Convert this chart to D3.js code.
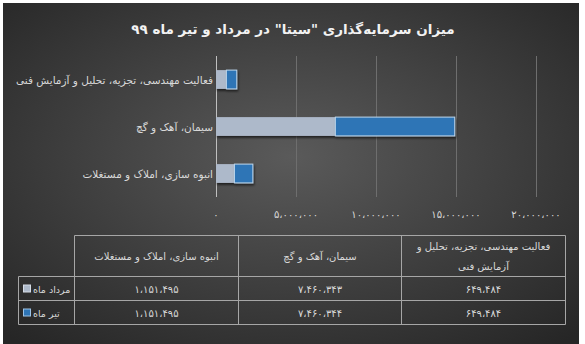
<!DOCTYPE html>
<html>
<head>
<meta charset="utf-8">
<script src="https://cdn.jsdelivr.net/npm/d3@7"></script>
<style>
  html, body { margin: 0; padding: 0; background: #fff; }
  svg { display: block; font-family: 'DejaVu Sans', sans-serif; }
</style>
</head>
<body>
<svg id="chart" width="585" height="344"></svg>
<script>
// chart data
const title = 'میزان سرمایه‌گذاری "سیتا" در مرداد و تیر ماه ۹۹';
const categories = [
  'انبوه سازی، املاک و مستغلات',
  'سیمان، آهک و گچ',
  'فعالیت مهندسی، تجزیه، تحلیل و آزمایش فنی',
];
const seriesNames = ['مرداد ماه', 'تیر ماه'];
const mordadValues = [1151495, 7460343, 649484];
const tirValues = [1151495, 7460344, 649484];
const xTicks = [0, 5000000, 10000000, 15000000, 20000000];

const colors = ['#adb9ca', '#2e75b6'];
const strokes = ['none', '#bdd7ee'];

// persian digits with arabic comma
const faDigits = '۰۱۲۳۴۵۶۷۸۹';
const toFa = (n) =>
  d3.format(',')(n).replace(/\d/g, (c) => faDigits[+c]).replace(/,/g, '،');

const svg = d3.select('#chart');
const height = 344;

const defs = svg.append('defs');
const grad = defs
  .append('radialGradient')
  .attr('id', 'bg')
  .attr('cx', '0.5')
  .attr('cy', '0.45')
  .attr('r', '0.72');
grad.append('stop').attr('offset', '0%').attr('stop-color', '#5a5a5a');
grad.append('stop').attr('offset', '100%').attr('stop-color', '#262626');

const shadow = defs
  .append('filter')
  .attr('id', 'shadow')
  .attr('x', '-10%')
  .attr('y', '-20%')
  .attr('width', '130%')
  .attr('height', '160%');
shadow
  .append('feDropShadow')
  .attr('dx', 1)
  .attr('dy', 2)
  .attr('stdDeviation', 1.2)
  .attr('flood-color', '#000')
  .attr('flood-opacity', 0.6);

// background panel
svg
  .append('rect')
  .attr('x', 3)
  .attr('y', 3)
  .attr('width', 576)
  .attr('height', height - 3)
  .attr('fill', 'url(#bg)');

// title
svg
  .append('text')
  .attr('x', 293)
  .attr('y', 34)
  .attr('text-anchor', 'middle')
  .attr('fill', '#f2f2f2')
  .attr('font-size', '13.5px')
  .attr('font-weight', 'bold')
  .text(title);

// scales
const plot = { left: 216, right: 536, top: 56, bottom: 197 };

const xScale = d3
  .scaleLinear()
  .domain([0, 20000000])
  .range([plot.left, plot.right]);

const yScale = d3
  .scaleBand()
  .domain(categories.slice().reverse())
  .range([plot.top, plot.bottom])
  .paddingInner(0.6)
  .paddingOuter(0.3);

// gridlines
svg
  .append('g')
  .selectAll('line')
  .data(xTicks)
  .enter()
  .append('line')
  .attr('x1', (d) => xScale(d) + 0.5)
  .attr('x2', (d) => xScale(d) + 0.5)
  .attr('y1', plot.top)
  .attr('y2', plot.bottom)
  .attr('stroke', (d) => (d === 0 ? '#bfbfbf' : '#6e6e6e'))
  .attr('stroke-width', 1);

// x axis labels
svg
  .append('g')
  .selectAll('text')
  .data(xTicks)
  .enter()
  .append('text')
  .attr('x', (d) => xScale(d))
  .attr('y', 218)
  .attr('text-anchor', 'middle')
  .attr('fill', '#d9d9d9')
  .attr('font-size', '10px')
  .text((d) => toFa(d));

// category labels
svg
  .append('g')
  .selectAll('text')
  .data(categories)
  .enter()
  .append('text')
  .attr('x', plot.left - 3)
  .attr('y', (d) => yScale(d) + yScale.bandwidth() / 2 + 4)
  .attr('text-anchor', 'end')
  .attr('fill', '#d9d9d9')
  .attr('font-size', '10.5px')
  .text((d) => d);

// stacked bars
const stackData = categories.map((c, i) => ({
  category: c,
  mordad: mordadValues[i],
  tir: tirValues[i],
}));
const stacked = d3.stack().keys(['mordad', 'tir'])(stackData);

svg
  .append('g')
  .selectAll('g')
  .data(stacked)
  .enter()
  .append('g')
  .attr('fill', (d, i) => colors[i])
  .attr('stroke', (d, i) => strokes[i])
  .attr('filter', 'url(#shadow)')
  .selectAll('rect')
  .data((d) => d)
  .enter()
  .append('rect')
  .attr('x', (d) => xScale(d[0]))
  .attr('y', (d) => yScale(d.data.category))
  .attr('width', (d) => xScale(d[1]) - xScale(d[0]))
  .attr('height', yScale.bandwidth());

// data table
const tbl = {
  keyLeft: 18.5,
  cols: [74.5, 238.5, 401.5, 565.5],
  rows: [235.5, 276.5, 300.5, 324.5],
};
const table = svg.append('g').attr('stroke', '#a6a6a6').attr('stroke-width', 1);

// horizontal lines
table
  .append('line')
  .attr('x1', tbl.cols[0])
  .attr('x2', tbl.cols[3])
  .attr('y1', tbl.rows[0])
  .attr('y2', tbl.rows[0]);
tbl.rows.slice(1).forEach((y) => {
  table
    .append('line')
    .attr('x1', tbl.keyLeft)
    .attr('x2', tbl.cols[3])
    .attr('y1', y)
    .attr('y2', y);
});
// vertical lines
table
  .append('line')
  .attr('x1', tbl.keyLeft)
  .attr('x2', tbl.keyLeft)
  .attr('y1', tbl.rows[1])
  .attr('y2', tbl.rows[3]);
tbl.cols.forEach((x) => {
  table
    .append('line')
    .attr('x1', x)
    .attr('x2', x)
    .attr('y1', tbl.rows[0])
    .attr('y2', tbl.rows[3]);
});

// header cells (category order)
const headerLines = [
  [categories[0]],
  [categories[1]],
  ['فعالیت مهندسی، تجزیه، تحلیل و', 'آزمایش فنی'],
];
headerLines.forEach((lines, i) => {
  const cx = (tbl.cols[i] + tbl.cols[i + 1]) / 2;
  const cy = (tbl.rows[0] + tbl.rows[1]) / 2;
  lines.forEach((t, j) => {
    svg
      .append('text')
      .attr('x', cx)
      .attr('y', cy + 4 + (j - (lines.length - 1) / 2) * 20)
      .attr('text-anchor', 'middle')
      .attr('fill', '#d9d9d9')
      .attr('font-size', '10px')
      .text(t);
  });
});

// value rows
[mordadValues, tirValues].forEach((vals, r) => {
  const cy = (tbl.rows[r + 1] + tbl.rows[r + 2]) / 2;
  vals.forEach((v, i) => {
    svg
      .append('text')
      .attr('x', (tbl.cols[i] + tbl.cols[i + 1]) / 2)
      .attr('y', cy + 4)
      .attr('text-anchor', 'middle')
      .attr('fill', '#d9d9d9')
      .attr('font-size', '10px')
      .text(toFa(v));
  });

  // legend key
  svg
    .append('rect')
    .attr('x', 23.5)
    .attr('y', cy - 3.5)
    .attr('width', 7)
    .attr('height', 7)
    .attr('fill', colors[r])
    .attr('stroke', r === 0 ? '#d6dce5' : '#9dc3e6')
    .attr('stroke-width', 1);
  svg
    .append('text')
    .attr('x', 33)
    .attr('y', cy + 4)
    .attr('text-anchor', 'start')
    .attr('fill', '#d9d9d9')
    .attr('font-size', '9.5px')
    .text(seriesNames[r]);
});
</script>
</body>
</html>
